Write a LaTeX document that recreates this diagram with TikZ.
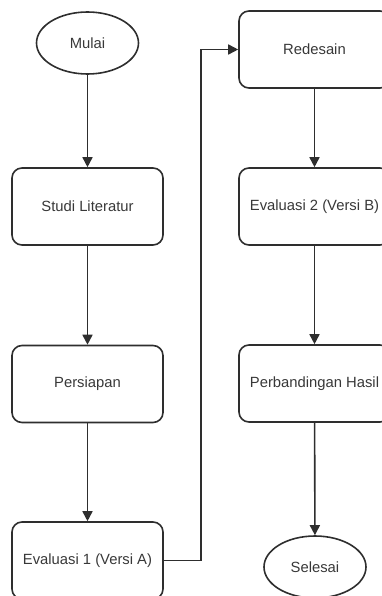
\documentclass[tikz,border=0pt]{standalone}
\usepackage{fontspec}
\setmainfont{Liberation Sans}
\usetikzlibrary{arrows.meta,shapes.geometric}
\definecolor{linec}{HTML}{2E2E2E}
\definecolor{textc}{HTML}{383838}
\begin{document}
\begin{tikzpicture}[x=1pt,y=-1pt,
  procbox/.style={draw=linec,line width=1.6pt,rounded corners=10pt,minimum width=151pt,minimum height=77pt,inner sep=0pt,font=\fontsize{14.8}{17}\selectfont,text=textc},
  termnode/.style={draw=linec,line width=1.6pt,ellipse,minimum width=102pt,minimum height=62pt,inner sep=0pt,font=\fontsize{14.8}{17}\selectfont,text=textc},
  conn/.style={draw=linec,line width=1.6pt,-{Triangle[length=10pt,width=10pt]}}]
\useasboundingbox (0,0) rectangle (382,596);
\clip (0,0) rectangle (382,596);
\node[termnode] (mulai) at (87.5,43) {Mulai};
\node[procbox] (studi) at (87.5,206.5) {Studi Literatur};
\node[procbox] (persiapan) at (87.5,384) {Persiapan};
\node[procbox] (eval1) at (87.5,560.5) {Evaluasi 1 (Versi A)};
\node[procbox] (redesain) at (314.5,49.5) {Redesain};
\node[procbox] (eval2) at (314.5,206.5) {Evaluasi 2 (Versi B)};
\node[procbox] (banding) at (314.5,383.5) {Perbandingan Hasil};
\node[termnode] (selesai) at (315,567) {Selesai};
\coordinate (c1) at (201,560.5);
\coordinate (c2) at (201,49.5);
\draw[conn] (mulai) -- (studi);
\draw[conn] (studi) -- (persiapan);
\draw[conn] (persiapan) -- (eval1);
\draw[conn] (eval1.east) -- (c1) -- (c2) -- (redesain.west);
\draw[conn] (redesain) -- (eval2);
\draw[conn] (eval2) -- (banding);
\draw[conn] (banding) -- (selesai);
\end{tikzpicture}
\end{document}
